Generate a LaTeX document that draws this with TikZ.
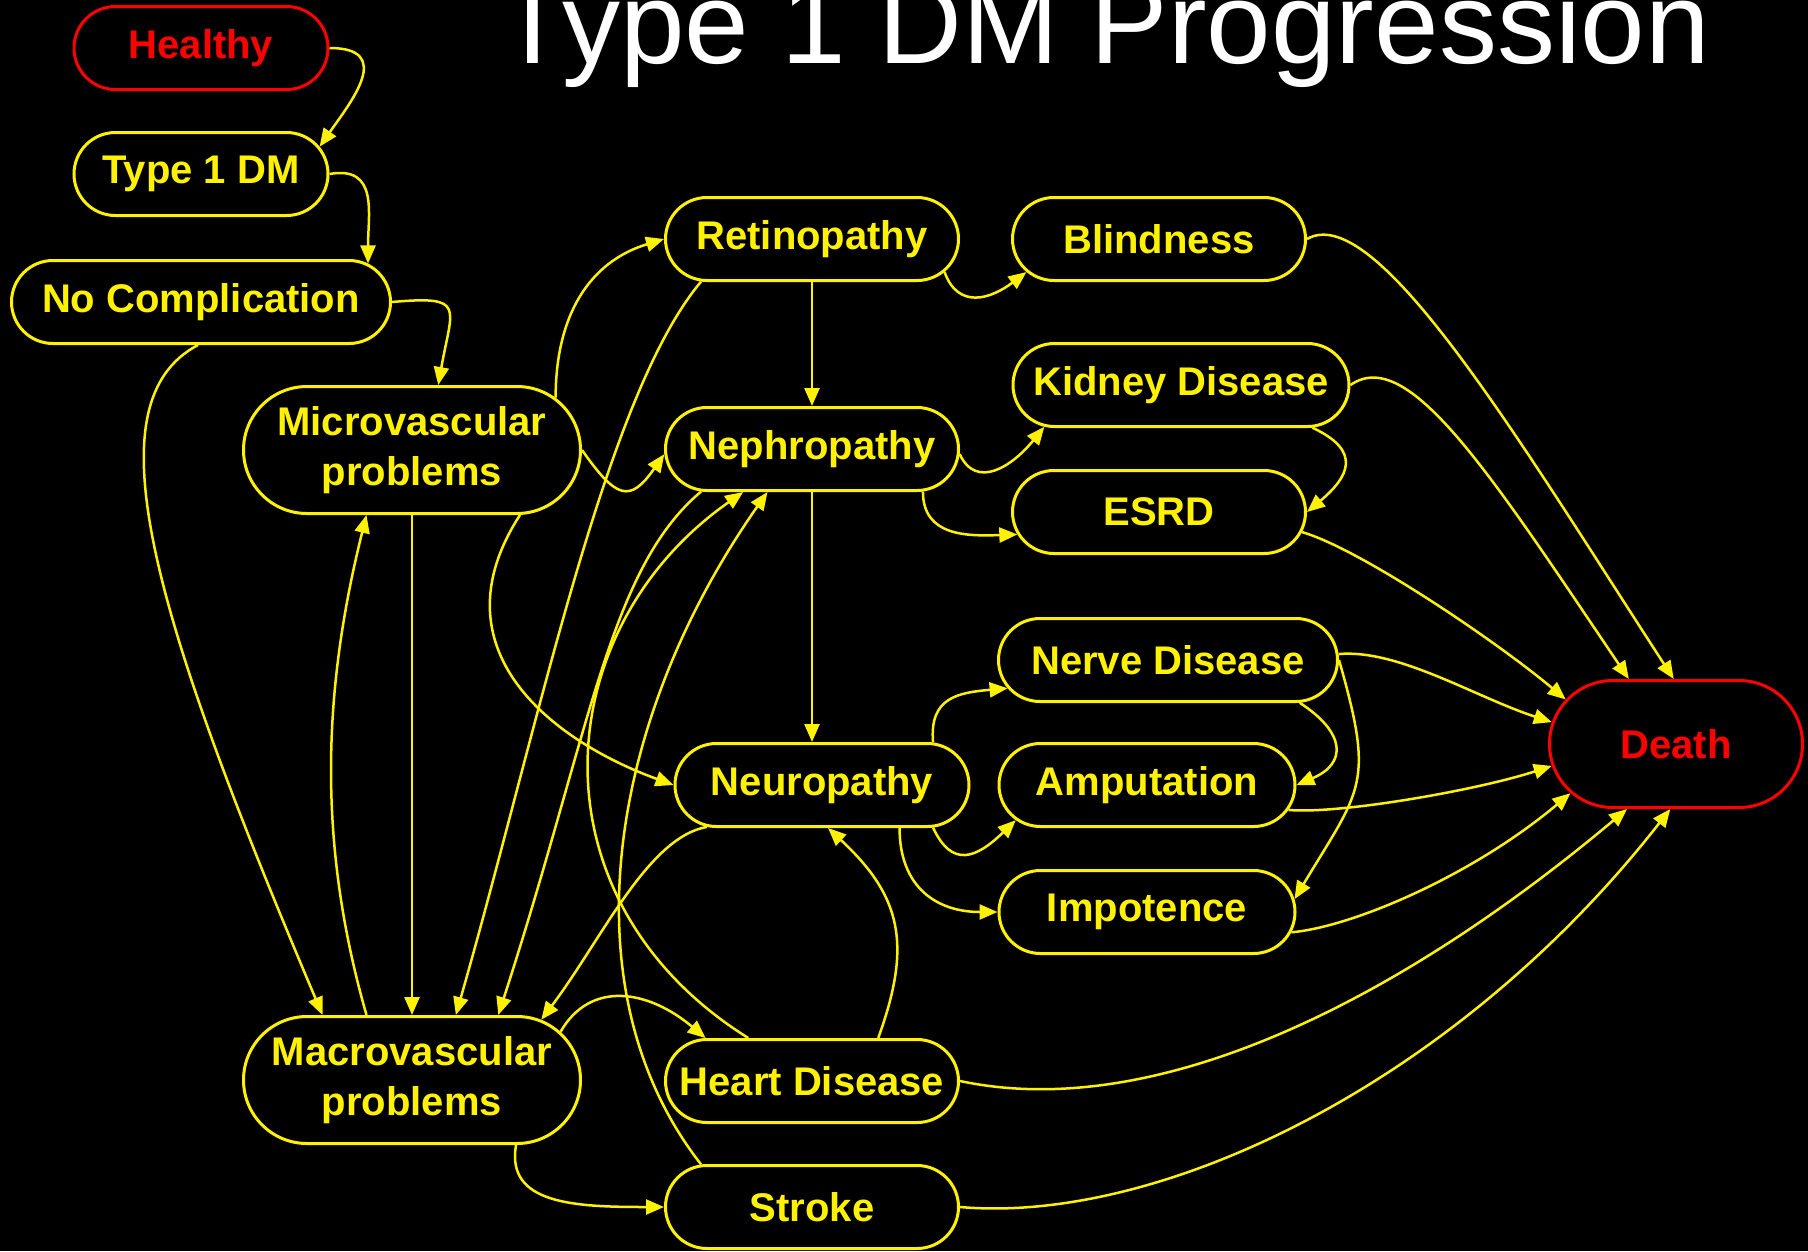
\documentclass[tikz,border=0pt]{standalone}
\usepackage{fontspec}
\setmainfont{Liberation Sans}
\usetikzlibrary{shapes.misc, arrows.meta}

\begin{document}
\begin{tikzpicture}[x=1pt, y=1pt,
  state/.style={rounded rectangle, draw=yellow, line width=3pt, fill=black, text=yellow, font=\bfseries\fontsize{40}{50}\selectfont, minimum height=83pt, inner xsep=-30pt, align=center},
  endstate/.style={state, draw=red, text=red},
  tall/.style={minimum height=127pt, inner xsep=-45pt},
  link/.style={draw=yellow, line width=2.5pt, -{Triangle[length=18pt,width=15pt]}}]
\fill[black] (0,0) rectangle (1808,-1251);
\useasboundingbox (0,0) rectangle (1808,-1251);
\node[font=\fontsize{116}{120}\selectfont, text=white, anchor=base] (title) at (1104,-63) {Type 1 DM Progression};

\node[endstate, minimum width=194pt] (healthy) at (201,-48) {Healthy};
\node[state, minimum width=194pt] (typeone) at (201,-174) {Type 1 DM};
\node[state, minimum width=319pt] (nocomp) at (201,-302) {No Complication};
\node[state, tall, minimum width=247pt] (micro) at (412,-450) {Microvascular\\problems};
\node[state, minimum width=233pt] (retino) at (812,-239) {Retinopathy};
\node[state, minimum width=233pt] (blind) at (1159,-239) {Blindness};
\node[state, minimum width=276pt] (kidney) at (1181,-385) {Kidney Disease};
\node[state, minimum width=233pt] (nephro) at (812,-449) {Nephropathy};
\node[state, minimum width=233pt] (esrd) at (1159,-512) {ESRD};
\node[state, minimum width=279pt] (nerve) at (1168,-660) {Nerve Disease};
\node[endstate, tall, minimum width=163pt] (death) at (1676,-744) {Death};
\node[state, minimum width=234pt] (neuro) at (822,-785) {Neuropathy};
\node[state, minimum width=236pt] (amput) at (1147,-785) {Amputation};
\node[state, minimum width=236pt] (impot) at (1147,-912) {Impotence};
\node[state, tall, minimum width=247pt] (macro) at (412,-1080) {Macrovascular\\problems};
\node[state, minimum width=233pt] (heart) at (812,-1081) {Heart Disease};
\node[state, minimum width=233pt] (stroke) at (812,-1207) {Stroke};

\draw[link] (healthy.east) .. controls +(0:65) and +(55:55) .. (typeone.13);
\draw[link] (typeone.east) .. controls +(10:50) and +(90:50) .. (nocomp.13);
\draw[link] (nocomp.east) .. controls +(5:75) and +(80:80) .. (micro.68);
\draw[link] (nocomp.266) .. controls +(208:120) and +(113:450) .. (macro.144);
\draw[link] (micro.south) -- (macro.north);
\draw[link] (macro.125) .. controls +(106:180) and +(256:180) .. (micro.235);
\draw[link] (micro.20) .. controls +(90:80) and +(197:80) .. (retino.west);
\draw[link] (micro.east) .. controls +(-55:60) and +(235:60) .. (nephro.182);
\draw[link] (micro.329) .. controls +(237:160) and +(160:130) .. (neuro.west);
\draw[link] (retino.south) -- (nephro.north);
\draw[link] (retino.346) .. controls +(-70:40) and +(217:45) .. (blind.194);
\draw[link] (retino.201) .. controls +(230:150) and +(74:300) .. (macro.56);
\draw[link] (nephro.south) -- (nephro.south |- neuro.north);
\draw[link] (nephro.358) .. controls +(-65:40) and +(231:50) .. (kidney.197);
\draw[link] (nephro.339) .. controls +(270:45) and +(182:50) .. (esrd.189);
\draw[link] (kidney.342) .. controls +(-25:55) and +(40:55) .. (esrd.east);
\draw[link] (kidney.east) .. controls +(35:70) and +(124:250) .. (death.126);
\draw[link] (blind.east) .. controls +(30:80) and +(123:280) .. (death.92);
\draw[link] (esrd.352) .. controls +(-16:60) and +(140:90) .. (death.158);
\draw[link] (nephro.201) .. controls +(220:120) and +(72:300) .. (macro.37);
\draw[link] (heart.146) .. controls +(148:260) and +(215:240) .. (nephro.212);
\draw[link] (stroke.159) .. controls +(128:220) and +(235:280) .. (nephro.224);
\draw[link] (neuro.200) .. controls +(190:60) and +(53:100) .. (macro.25);
\draw[link] (heart.33) .. controls +(70:100) and +(-43:100) .. (neuro.278);
\draw[link] (macro.18) .. controls +(60:60) and +(140:75) .. (heart.158);
\draw[link] (macro.328) .. controls +(260:60) and +(180:90) .. (stroke.west);
\draw[link] (neuro.21) .. controls +(95:45) and +(185:50) .. (nerve.190);
\draw[link] (neuro.339) .. controls +(-65:45) and +(224:55) .. (amput.195);
\draw[link] (neuro.331) .. controls +(270:60) and +(180:60) .. (impot.west);
\draw[link] (nerve.342) .. controls +(-33:55) and +(23:55) .. (amput.east);
\draw[link] (nerve.east) .. controls +(-74:130) and +(59:130) .. (impot.5);
\draw[link] (nerve.2) .. controls +(5:60) and +(162:80) .. (death.170);
\draw[link] (amput.350) .. controls +(-5:50) and +(198:80) .. (death.190);
\draw[link] (impot.352) .. controls +(5:60) and +(220:130) .. (death.205);
\draw[link] (heart.east) .. controls +(-12:200) and +(220:300) .. (death.233);
\draw[link] (stroke.east) .. controls +(-5:200) and +(232:350) .. (death.265);
\end{tikzpicture}
\end{document}
